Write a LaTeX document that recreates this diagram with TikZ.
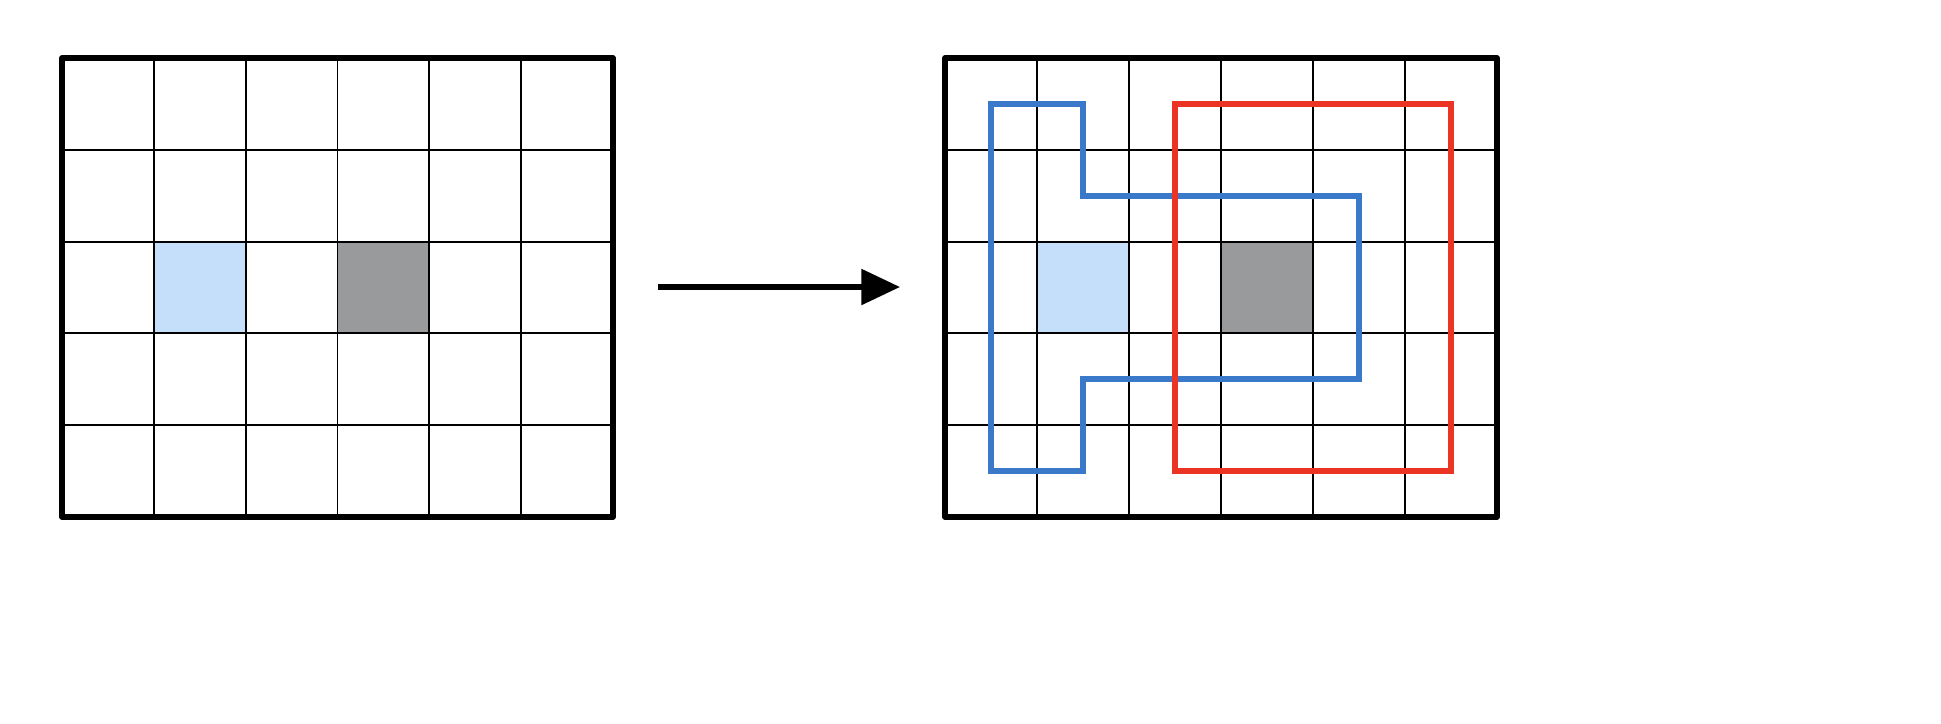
\documentclass[tikz,border=0pt]{standalone}
\usetikzlibrary{arrows.meta}
\definecolor{lblue}{HTML}{C5DFFB}
\definecolor{cgray}{HTML}{999A9B}
\definecolor{cblue}{HTML}{3A78C9}
\definecolor{cred}{HTML}{EC3424}
\tikzset{
  gridline/.style={line width=0.55pt, black},
  border/.style={line width=1.45pt, black, line join=round},
  outlineblue/.style={line width=1.7pt, cblue},
  outlinered/.style={line width=1.7pt, cred},
}
\begin{document}
\begin{tikzpicture}[x=0.01cm,y=-0.01cm]
\useasboundingbox (0,0) rectangle (1941,723);
% left grid: x0=62, cell 91.83; y0=58, cell 91.8
\fill[lblue] (153.83,241.6) rectangle (245.66,333.4);
\fill[cgray] (337.5,241.6) rectangle (429.3,333.4);
\foreach \i in {1,...,5} \draw[gridline] ({62+91.83*\i},58) -- ({62+91.83*\i},517);
\foreach \j in {1,...,4} \draw[gridline] (62,{58+91.8*\j}) -- (613,{58+91.8*\j});
\draw[border] (62,58) rectangle (613,517);
% right grid: x0=945, cell 92
\fill[lblue] (1037,241.6) rectangle (1129,333.4);
\fill[cgray] (1221,241.6) rectangle (1313,333.4);
\foreach \i in {1,...,5} \draw[gridline] ({945+92*\i},58) -- ({945+92*\i},517);
\foreach \j in {1,...,4} \draw[gridline] (945,{58+91.8*\j}) -- (1497,{58+91.8*\j});
\draw[border] (945,58) rectangle (1497,517);
\draw[outlineblue] (991,103.9) -- (1083,103.9) -- (1083,195.7) -- (1359,195.7) -- (1359,379.3) -- (1083,379.3) -- (1083,471.1) -- (991,471.1) -- cycle;
\draw[outlinered] (1175,103.9) rectangle (1451,471.1);
\coordinate (A1) at (658,287);
\coordinate (A2) at (900,287);
\draw[line width=1.45pt, -{Triangle[length=11pt,width=10pt]}] (A1) -- (A2);
\end{tikzpicture}
\end{document}
